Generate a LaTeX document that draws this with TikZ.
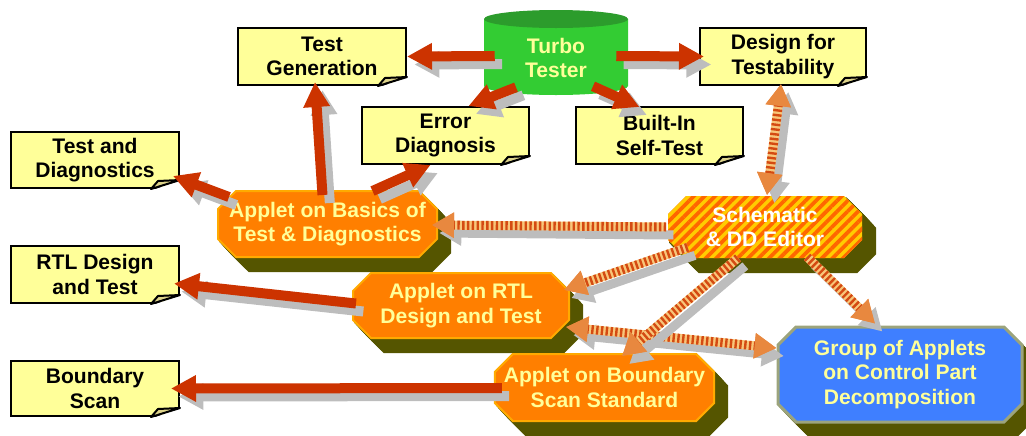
\documentclass[tikz,border=0pt]{standalone}
\usepackage{fontspec}
\setmainfont{Liberation Sans}
\usetikzlibrary{arrows.meta,calc,shapes.misc,shadows,patterns.meta}

\definecolor{notefill}{HTML}{FFFF99}
\definecolor{foldtan}{HTML}{DDD38A}
\definecolor{appletfill}{HTML}{FF7F00}
\definecolor{appletline}{HTML}{FFAA00}
\definecolor{olive3d}{HTML}{555500}
\definecolor{lighttext}{HTML}{FFFF99}
\definecolor{redarrow}{HTML}{CC3300}
\definecolor{shadowgray}{HTML}{BDBDBD}
\definecolor{stripedark}{HTML}{D44A12}
\definecolor{stripelight}{HTML}{F8C67A}
\definecolor{stripemid}{HTML}{E8883F}
\definecolor{schyellow}{HTML}{FFCC00}
\definecolor{schorange}{HTML}{FF6600}
\definecolor{groupfill}{HTML}{3F7FFF}
\definecolor{groupline}{HTML}{9CA47C}
\definecolor{ttbody}{HTML}{33CC33}
\definecolor{tttop}{HTML}{2C9C2C}

\newcommand{\boxfont}{\fontsize{15.8}{18.5}\selectfont\bfseries}

% folded corner of a note
\newcommand{\notefold}[1]{%
  \fill[white] ($(#1.south east)+(-29,1.5)$) -- ($(#1.south east)+(1.5,1.5)$) -- ($(#1.south east)+(1.5,-9)$) -- cycle;
  \draw[line width=1.5pt, line join=round, fill=foldtan] ($(#1.south east)+(-29,0)$) -- ($(#1.south east)+(-22,-8)$) -- ($(#1.south east)+(0,-9)$) -- cycle;
}

% red arrow with its shadow
\newcommand{\redarrow}[2]{%
  \draw[arrow shadow, red line] #1 -- #2;
  \draw[red arrow, red line] #1 -- #2;
}

% striped arrow with its shadow
\newcommand{\stripearrow}[3]{%
  \draw[arrow shadow, stripe line, #1=shadowgray] #2 -- #3;
  \draw[stripe base, #1=stripemid] #2 -- #3;
  \draw[stripe dash, #1=stripemid] #2 -- #3;
}

\tikzset{
  note/.style={draw=black, line width=1.5pt, fill=notefill, inner sep=0pt, align=center, font=\boxfont},
  extrude/.style={
    general shadow={fill=olive3d, draw=olive3d, line width=1.5pt, shadow xshift=1.625pt, shadow yshift=-1.75pt},
    general shadow={fill=olive3d, draw=olive3d, line width=1.5pt, shadow xshift=3.25pt, shadow yshift=-3.5pt},
    general shadow={fill=olive3d, draw=olive3d, line width=1.5pt, shadow xshift=4.875pt, shadow yshift=-5.25pt},
    general shadow={fill=olive3d, draw=olive3d, line width=1.5pt, shadow xshift=6.5pt, shadow yshift=-7pt},
    general shadow={fill=olive3d, draw=olive3d, line width=1.5pt, shadow xshift=8.125pt, shadow yshift=-8.75pt},
    general shadow={fill=olive3d, draw=olive3d, line width=1.5pt, shadow xshift=9.75pt, shadow yshift=-10.5pt}},
  applet/.style={chamfered rectangle, chamfered rectangle xsep=6.75pt, chamfered rectangle ysep=6.75pt,
    inner sep=0pt, align=center, font=\boxfont, text=lighttext, extrude},
  applet box/.style={applet, fill=appletfill, draw=appletline, line width=1.5pt},
  red line/.style={line width=7.5pt, -{Triangle[length=18.75pt,width=18.75pt]}},
  red arrow/.style={draw=redarrow},
  arrow shadow/.style={draw=shadowgray, transform canvas={xshift=5.5pt,yshift=-6pt}},
  stripe line/.style={line width=6.75pt},
  one way/.style={-{Triangle[length=16.5pt,width=18pt,color=#1]}},
  two way/.style={{Triangle[length=16.5pt,width=18pt,color=#1]}-{Triangle[length=16.5pt,width=18pt,color=#1]}},
  stripe base/.style={stripe line, draw=stripelight},
  stripe dash/.style={stripe line, draw=stripedark, dash pattern=on 1.8pt off 1.8pt},
}

\begin{document}
\begin{tikzpicture}[x=0.75pt,y=-0.75pt]
  \useasboundingbox (0,0) rectangle (1026,436);

  % Turbo Tester drum
  \fill[ttbody] (484,19) -- (484,86) arc[start angle=180, end angle=0, x radius=72, y radius=9] -- (628,19) -- cycle;
  \fill[tttop] (556,19) ellipse [x radius=72, y radius=9];
  \node[font=\boxfont, text=lighttext, align=center, minimum width=108pt, minimum height=58.5pt] (tt) at (556,58) {Turbo\\Tester};

  % notes
  \node[note, minimum width=126pt, minimum height=42.75pt] (tg) at (322,56.5) {Test\\Generation};
  \node[note, minimum width=125.25pt, minimum height=42.75pt] (ed) at (445.5,135.5) {Error\\Diagnosis};
  \node[note, minimum width=125.25pt, minimum height=42.75pt] (bist) at (659.5,135.5) {Built-In\\Self-Test};
  \node[note, minimum width=124.5pt, minimum height=42.75pt] (dft) at (783,56.5) {Design for\\Testability};
  \node[note, minimum width=126pt, minimum height=42pt] (tad) at (95,160) {Test and\\Diagnostics};
  \node[note, minimum width=126pt, minimum height=42.75pt] (rtl) at (95,274.5) {RTL Design\\and Test};
  \node[note, minimum width=126pt, minimum height=41.25pt] (bs) at (95,388.5) {Boundary\\Scan};
  \foreach \n in {tg,ed,bist,dft,tad,rtl,bs}
    \notefold{\n};

  % applets
  \node[applet box, minimum width=164.25pt, minimum height=49.5pt] (ab) at (327.5,224) {Applet on Basics of\\Test \& Diagnostics};
  \node[applet, text=white, preaction={fill=schyellow}, pattern={Lines[angle=45,distance=5.6pt,line width=2.8pt]},
    pattern color=schorange, minimum width=145.5pt, minimum height=46.5pt] (sch) at (765,227) {Schematic\\\& DD Editor};
  \node[applet box, minimum width=162pt, minimum height=48.75pt] (ar) at (461,305.5) {Applet on RTL\\Design and Test};
  \node[applet box, minimum width=162.75pt, minimum height=50.25pt] (abs) at (604.5,387.5) {Applet on Boundary\\Scan Standard};
  \node[applet, fill=groupfill, draw=groupline, line width=2.25pt, minimum width=183pt, minimum height=71.25pt] (grp) at (900,374.5)
    {Group of Applets\\on Control Part\\Decomposition};

  % striped links
  \stripearrow{one way}{(sch.west)}{($(ab.east)+(-6,1)$)}
  \stripearrow{two way}{($(dft.south)+(-2,-2)$)}{($(sch.north)+(2,1)$)}
  \stripearrow{one way}{($(sch.south west)+(12,-3)$)}{($(ar.east)+(-6,-15.5)$)}
  \stripearrow{one way}{($(sch.south)+(42,-3)$)}{($(grp.north)+(-25,-2)$)}
  \stripearrow{two way}{($(ar.east)+(-4,21.5)$)}{($(grp.west)+(0,-26.5)$)}
  \stripearrow{one way}{($(sch.south)+(-27,-2)$)}{($(abs.north)+(17.5,3)$)}

  % red links
  \redarrow{($(tt.west)+(11,-2)$)}{(tg.east)}
  \redarrow{($(tt.east)+(-12,-2)$)}{($(dft.west)+(5,0)$)}
  \redarrow{($(tt.south)+(-40,-10)$)}{($(ed.north)+(23,0)$)}
  \redarrow{($(tt.south)+(37,-11)$)}{($(bist.north)+(-20,1)$)}
  \redarrow{($(ab.north)+(-5,5)$)}{($(tg.south)+(-7,-4)$)}
  \redarrow{($(ab.north)+(45,1)$)}{($(ed.south)+(-15,0)$)}
  \redarrow{($(ab.west)+(12,-27)$)}{($(tad.south east)+(-7,-13)$)}
  \redarrow{($(ar.west)+(4,-2)$)}{($(rtl.east)+(-6,9)$)}
  \redarrow{($(abs.west)+(8,0.5)$)}{($(bs.east)+(-9,0)$)}
\end{tikzpicture}
\end{document}
